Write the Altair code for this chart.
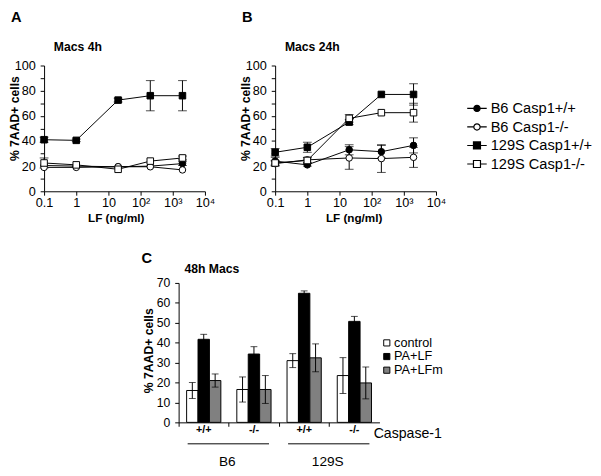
import altair as alt
import pandas as pd

FONT = "Liberation Sans"

lf_doses = [0.1, 1, 20, 200, 2000]
series_names = ["B6 Casp1+/+", "B6 Casp1-/-", "129S Casp1+/+", "129S Casp1-/-"]
series_fill = ["black", "white", "black", "white"]
series_shape = ["circle", "circle", "square", "square"]
series_size = [45, 45, 70, 70]
x_tick_values = [0.1, 1, 10, 100, 1000, 10000]

# Panel A: Macs 4h
a_b6_wt = [20.5, 20.0, 19.5, 20.0, 22.0]
a_b6_wt_err = [0, 0, 0, 0, 1.5]
a_b6_ko = [19.0, 19.0, 19.5, 19.5, 17.0]
a_b6_ko_err = [0, 0, 0, 0, 0]
a_s129_wt = [41.0, 40.5, 72.5, 76.0, 76.0]
a_s129_wt_err = [2.0, 1.0, 1.5, 12.0, 12.0]
a_s129_ko = [22.5, 21.0, 17.5, 24.0, 26.5]
a_s129_ko_err = [4.0, 0, 0, 0, 1.5]

# Panel B: Macs 24h
b_b6_wt = [24.0, 21.0, 33.0, 31.5, 36.5]
b_b6_wt_err = [3.0, 1.0, 4.0, 5.0, 6.0]
b_b6_ko = [22.0, 25.0, 26.5, 26.0, 27.0]
b_b6_ko_err = [2.0, 2.0, 9.0, 11.0, 8.0]
b_s129_wt = [31.0, 35.0, 55.0, 77.0, 77.0]
b_s129_wt_err = [3.0, 4.0, 2.0, 0, 8.5]
b_s129_ko = [22.5, 24.5, 58.0, 62.5, 62.5]
b_s129_ko_err = [2.0, 2.0, 3.0, 0, 7.5]

# Panel C: 48h Macs
c_groups = ["B6 +/+", "B6 -/-", "129S +/+", "129S -/-"]
c_conditions = ["control", "PA+LF", "PA+LFm"]
c_colors = ["white", "black", "#808080"]
c_control = [16.0, 16.5, 31.0, 23.5]
c_control_err = [4.0, 6.3, 3.5, 9.0]
c_palf = [41.7, 34.3, 64.8, 50.7]
c_palf_err = [2.5, 3.7, 1.2, 2.5]
c_palfm = [21.0, 16.5, 32.4, 19.8]
c_palfm_err = [3.3, 7.0, 7.0, 8.0]
c_strains = ["B6", "129S"]
c_strain_first = ["B6 +/+", "129S +/+"]
c_strain_last = ["B6 -/-", "129S -/-"]
c_factor = ["Caspase-1"]

panel_letters = ["A", "B", "C"]
panel_titles = ["Macs 4h", "Macs 24h", "48h Macs"]

# legend symbols: line stub with marker
legend_paths = [
    "M-1,0L1,0M0.32,0A0.32,0.32,0,1,1,-0.32,0A0.32,0.32,0,1,1,0.32,0Z",
    "M-1,0L-0.32,0M0.32,0L1,0M0.32,0A0.32,0.32,0,1,1,-0.32,0A0.32,0.32,0,1,1,0.32,0Z",
    "M-1,0L1,0M-0.36,-0.36L0.36,-0.36L0.36,0.36L-0.36,0.36Z",
    "M-1,0L-0.36,0M0.36,0L1,0M-0.36,-0.36L0.36,-0.36L0.36,0.36L-0.36,0.36Z",
]


def long_df(vals_list, errs_list):
    rows = []
    for name, vals, errs in zip(series_names, vals_list, errs_list):
        for d, v, e in zip(lf_doses, vals, errs):
            rows.append(dict(series=name, dose=d, pct=v, err=e))
    return pd.DataFrame(rows)


df_a = long_df([a_b6_wt, a_b6_ko, a_s129_wt, a_s129_ko],
               [a_b6_wt_err, a_b6_ko_err, a_s129_wt_err, a_s129_ko_err])
df_b = long_df([b_b6_wt, b_b6_ko, b_s129_wt, b_s129_ko],
               [b_b6_wt_err, b_b6_ko_err, b_s129_wt_err, b_s129_ko_err])


def text_layer(txt, x, y, size, weight="normal", align="left"):
    return alt.Chart(pd.DataFrame({"t": [txt]})).mark_text(
        font=FONT, fontSize=size, fontWeight=weight, align=align,
        baseline="middle", color="black"
    ).encode(text="t:N", x=alt.value(x), y=alt.value(y))


LABEL_EXPR_X = ("datum.value < 0.5 ? '0.1' : datum.value < 5 ? '1' : datum.value < 50 ? '10' : "
                "datum.value < 500 ? '10\u00b2' : datum.value < 5000 ? '10\u00b3' : '10\u2074'")

INDEP = dict(shape="independent", fill="independent", size="independent", stroke="independent")


def line_panel(df, letter, title, xtitle_x, legend=False):
    x_scale = alt.Scale(type="log", domain=[0.1, 10000], nice=False)
    x_axis = alt.Axis(values=x_tick_values, labelExpr=LABEL_EXPR_X,
                      title="LF (ng/ml)", titleX=xtitle_x, titleY=27,
                      titleBaseline="middle", titleFontSize=12,
                      tickSize=4, labelPadding=2, labelFontSize=13,
                      labelOverlap=False, labelFlush=False, grid=False)
    y_scale = alt.Scale(domain=[0, 100], nice=False)
    y_axis = alt.Axis(values=list(range(0, 101, 10)),
                      labelExpr="datum.value % 20 == 0 ? datum.label : ''",
                      title="% 7AAD+ cells", titleX=-30, titleY=54,
                      titleBaseline="middle", titleAlign="center",
                      titleAngle=-90, titleFontSize=12.5, labelOverlap=False,
                      tickSize=4, labelPadding=5, labelFontSize=13, grid=False)

    def X(f="dose"):
        return alt.X(f"{f}:Q", scale=x_scale, axis=x_axis)

    def Y(f):
        return alt.Y(f"{f}:Q", scale=y_scale, axis=y_axis)

    base = alt.Chart(df)
    lines = base.mark_line(color="black", strokeWidth=1).encode(
        x=X(), y=Y("pct"), detail="series:N")
    errs = base.transform_filter("datum.err > 0").transform_calculate(
        lo="datum.pct - datum.err", hi="datum.pct + datum.err")
    err_rule = errs.mark_rule(color="black", strokeWidth=1).encode(
        x=X(), y=Y("lo"), y2="hi:Q")
    caps = errs.transform_fold(["lo", "hi"]).mark_tick(
        orient="horizontal", size=9, thickness=1, color="black").encode(
        x=X(), y=Y("value"))
    points = base.mark_point(filled=True, stroke="black", strokeWidth=1, opacity=1).encode(
        x=X(), y=Y("pct"),
        shape=alt.Shape("series:N", scale=alt.Scale(domain=series_names, range=series_shape), legend=None),
        fill=alt.Fill("series:N", scale=alt.Scale(domain=series_names, range=series_fill), legend=None),
        size=alt.Size("series:N", scale=alt.Scale(domain=series_names, range=series_size), legend=None),
    )
    layers = [lines, err_rule, caps, points]
    if legend:
        leg = alt.Legend(title=None, orient="none", legendX=196, legendY=33,
                         labelFont=FONT, labelFontSize=15, labelColor="black",
                         symbolSize=400, symbolStrokeWidth=1.2, symbolStrokeColor="black",
                         symbolOpacity=1, rowPadding=0, labelOffset=3)
        # legend-only layer: no rows survive the filter, the legend comes from the scales
        legend_layer = base.transform_filter("datum.pct < -1000").mark_point(
            filled=True, opacity=1, strokeWidth=1.2).encode(
            x=X(), y=Y("pct"),
            shape=alt.Shape("series:N", scale=alt.Scale(domain=series_names, range=legend_paths), legend=leg),
            fill=alt.Fill("series:N", scale=alt.Scale(domain=series_names, range=series_fill), legend=leg),
            stroke=alt.Stroke("series:N", scale=alt.Scale(domain=series_names, range=["black"] * 4), legend=leg),
        )
        layers.append(legend_layer)
    layers.append(text_layer(letter, -34, -50, 15, "bold"))
    layers.append(text_layer(title, 10, -19, 12.5, "bold"))
    ch = alt.layer(*layers).properties(width=165, height=129)
    return ch.resolve_scale(**INDEP)


panel_a = line_panel(df_a, panel_letters[0], panel_titles[0], 73.5)
panel_b = line_panel(df_b, panel_letters[1], panel_titles[1], 80.5, legend=True)

# Panel C
rows = []
for cond, vals, errs in zip(c_conditions, [c_control, c_palf, c_palfm],
                            [c_control_err, c_palf_err, c_palfm_err]):
    for g, v, e in zip(c_groups, vals, errs):
        rows.append(dict(group=g, cond=cond, value=v, err=e))
df_c = pd.DataFrame(rows)

xc_scale = alt.Scale(domain=c_groups, paddingInner=0, paddingOuter=0)
xc_axis = alt.Axis(bandPosition=0, labelExpr="split(datum.label, ' ')[1]",
                   labelOffset=0, labelAngle=0, title=None, tickSize=4,
                   labelPadding=-3, labelFontSize=11, labelFontWeight="bold",
                   labelBaseline="top", labelOverlap=False, grid=False)
yc_scale = alt.Scale(domain=[0, 70], nice=False)
yc_axis = alt.Axis(values=list(range(0, 71, 10)), title="% 7AAD+ cells",
                   titleX=-31, titleY=69, titleBaseline="middle", titleAlign="center",
                   titleAngle=-90, titleFontSize=12.5, tickSize=4, labelPadding=5,
                   labelFontSize=12.5, labelOverlap=False, grid=False)
xoff = alt.XOffset("cond:N", scale=alt.Scale(domain=c_conditions, paddingInner=0, paddingOuter=0.7))


def XC(f="group", **kw):
    return alt.X(f"{f}:N", scale=xc_scale, axis=xc_axis, **kw)


def YC(f):
    return alt.Y(f"{f}:Q", scale=yc_scale, axis=yc_axis)


base_c = alt.Chart(df_c)
bars = base_c.mark_bar(stroke="black", strokeWidth=1).encode(
    x=XC(), xOffset=xoff, y=YC("value"),
    fill=alt.Fill("cond:N", scale=alt.Scale(domain=c_conditions, range=c_colors),
                  legend=alt.Legend(title=None, orient="none", legendX=207, legendY=55,
                                    symbolType="square", symbolSize=40,
                                    symbolStrokeColor="black", symbolStrokeWidth=1,
                                    labelFont=FONT, labelFontSize=13, labelColor="black",
                                    rowPadding=0, labelOffset=1)))
errs_c = base_c.transform_calculate(lo="datum.value - datum.err", hi="datum.value + datum.err")
rule_c = errs_c.mark_rule(color="black", strokeWidth=1).encode(
    x=XC(), xOffset=xoff, y=YC("lo"), y2="hi:Q")
caps_c = errs_c.transform_fold(["lo", "hi"]).mark_tick(
    orient="horizontal", size=7, thickness=1, color="black").encode(
    x=XC(), xOffset=xoff, y=YC("value"))

df_strain = pd.DataFrame({"strain": c_strains, "first": c_strain_first, "last": c_strain_last})
strain_lines = alt.Chart(df_strain).mark_rule(color="black", strokeWidth=1).encode(
    x=XC("first", bandPosition=0.18),
    x2=alt.X2("last:N", bandPosition=0.8),
    y=alt.value(165))
strain_text = alt.Chart(df_strain).mark_text(
    font=FONT, fontSize=14, align="center", baseline="middle", color="black").encode(
    x=XC("first", bandPosition=0.97), y=alt.value(184), text="strain:N")

panel_c = alt.layer(
    bars, rule_c, caps_c, strain_lines, strain_text,
    text_layer(c_factor[0], 200, 155, 14.5),
    text_layer(panel_letters[2], -38, -25, 15, "bold"),
    text_layer(panel_titles[2], 6, -14, 12.5, "bold"),
).properties(width=206, height=143)

spacer = alt.Chart(pd.DataFrame({"a": [0]})).mark_point(opacity=0, size=1).encode(
    x=alt.value(0), y=alt.value(0)).properties(width=100, height=10)

top = alt.hconcat(panel_a, panel_b, spacing=24).resolve_scale(**INDEP)
bottom = alt.hconcat(spacer, panel_c, spacing=0).resolve_scale(**INDEP)

chart = alt.vconcat(top, bottom, spacing=29).resolve_scale(**INDEP).configure_view(
    stroke=None
).configure_axis(
    domainColor="black", tickColor="black", labelColor="black", titleColor="black",
    labelFont=FONT, titleFont=FONT, titleFontWeight="bold", domainWidth=1, tickWidth=1,
    labelOverlap=False
).configure_legend(labelFont=FONT).properties(
    padding={"top": -4, "left": 0, "right": 0, "bottom": 0})

chart.save("out.html", embed_options={"renderer": "svg", "actions": False})
